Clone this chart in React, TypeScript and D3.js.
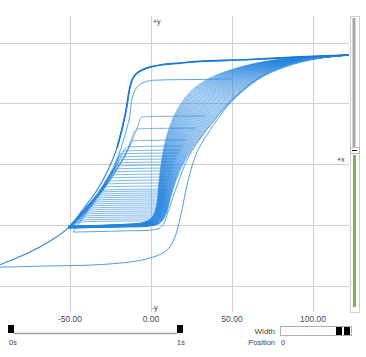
import React from 'react';
import * as d3 from 'd3';

const W = 366;
const H = 357;

// axis ticks
const xTicks = [-50, 0, 50, 100];
const xTickLabels = ['-50.00', '0.00', '50.00', '100.00'];
const yGrid = [-100, -50, 0, 50, 100];

// major loop, descending branch (field H, magnetisation M)
const majorDescH = [122.2, 92.0, 61.1, 30.2, 17.9, 5.6, -0.6, -5.6, -9.3, -11.7, -13.6, -14.8, -17.3, -21.0, -26.5, -33.3, -41.4, -51.2, -62.3, -74.7, -96];
const majorDescM = [90.1, 88.5, 86.4, 84.8, 83.5, 81.9, 80.2, 77.8, 74.5, 69.5, 59.7, 49.0, 32.5, 13.6, -4.5, -21.0, -35.8, -52.3, -63.0, -72.0, -84.0];

// major loop, ascending branch
const majorAscH = [-96, -62.3, -35.8, -13.0, -0.6, 7.4, 11.7, 14.8, 16.7, 19.1, 22.2, 25.9, 29.0, 33.3, 40.7, 50.0, 65.4, 77.8, 98.1, 122.2];
const majorAscM = [-84.6, -83.5, -82.7, -80.2, -77.0, -72.8, -67.9, -59.7, -51.4, -37.4, -16.9, 1.2, 11.9, 21.8, 36.6, 52.3, 69.5, 77.8, 86.0, 90.1];

// second loop
const secondAscH = [-48.1, -19.1, 3.7, 7.4, 10.5, 13.0, 16.7, 22.2, 28.4, 37.7, 47.5, 61.1, 76.5, 98.1, 122.2];
const secondAscM = [-55.6, -54.7, -53.1, -49.8, -39.1, -29.2, -15.2, 3.7, 17.7, 34.2, 49.8, 66.3, 78.6, 86.8, 90.1];
const secondDescH = [50.0, 30.2, 5.6, -1.9, -8.0, -11.1, -13.6, -17.9, -23.5, -31.5, -38.9, -48.1];
const secondDescM = [70.4, 70.0, 69.5, 68.7, 64.6, 57.2, 36.6, 16.0, -2.9, -21.0, -37.4, -55.6];

// ascending fan of the minor loops: inner and outer edge
const fanInnerH = [-51.2, -19.1, -3.7, 1.2, 3.7, 4.9, 6.8, 9.9, 15.4, 24.1, 36.4, 54.9, 76.5, 100, 122.2];
const fanInnerM = [-50.6, -49.4, -47.3, -42.4, -31.7, -15.2, 5.3, 24.3, 43.2, 59.7, 71.2, 80.2, 86.0, 88.5, 90.1];
const fanOuterH = [-51.2, -19.1, -0.6, 5.6, 9.3, 11.7, 16.0, 22.2, 30.2, 41.4, 54.9, 70.4, 87.0, 104.3, 122.2];
const fanOuterM = [-52.3, -51.4, -50.6, -48.1, -40.7, -29.2, -11.1, 6.2, 21.8, 40.7, 58.8, 73.7, 82.7, 87.6, 90.1];
const fanWeights = [
  0, 0.025, 0.05, 0.075, 0.1, 0.125, 0.15, 0.175, 0.2, 0.225, 0.25, 0.275, 0.3, 0.325, 0.35, 0.375, 0.4, 0.425, 0.45, 0.475,
  0.5, 0.525, 0.55, 0.575, 0.6, 0.625, 0.65, 0.675, 0.7, 0.725, 0.75, 0.775, 0.8, 0.825, 0.85, 0.875, 0.9, 0.925, 0.95, 0.975, 1,
];

// descending branches of the minor loops (top level, reversal field, knee field)
const minorTopM = [
  39.9, 30.0, 20.2, 15.2, 11.9, 9.5, 7.0, 4.5, 2.1, -0.4, -2.9, -5.3, -7.8, -10.3, -12.8, -15.2, -17.7,
  -20.2, -21.8, -23.5, -25.1, -26.7, -28.4, -30.0, -31.7, -33.3, -35.0, -36.6, -38.3, -39.9, -41.6, -43.2, -44.9, -46.5,
];
const minorRevH = [
  33.3, 27.2, 22.2, 19.8, 18.5, 17.3, 16.0, 15.4, 14.8, 14.2, 13.6, 13.0, 12.3, 11.7, 11.1, 10.5, 9.9,
  9.3, 9.3, 8.6, 8.6, 8.0, 8.0, 7.4, 7.4, 7.4, 6.8, 6.8, 6.2, 6.2, 5.6, 5.6, 4.9, 4.3,
];
const minorKneeH = [
  -6.2, -9.3, -12.3, -15.1, -17.8, -18.5, -19.3, -20.1, -20.8, -21.6, -22.3, -23.1, -24.2, -25.2, -26.2, -27.2, -28.3,
  -29.3, -30.1, -31.0, -31.9, -32.8, -33.6, -34.5, -35.4, -36.3, -37.2, -38.1, -39.1, -40.1, -41.1, -42.1, -43.1, -44.1,
];
const convergeH = -51.2;
const convergeM = -52.3;

type P = [number, number];
const zip = (a: number[], b: number[]): P[] => a.map((v, i) => [v, b[i]]);

export default function App() {
  const x = d3.scaleLinear().domain([-50, 100]).range([70, 313]);
  const y = d3.scaleLinear().domain([-100, 100]).range([286, 43]);
  const line = d3
    .line<P>()
    .x((d) => x(d[0]))
    .y((d) => y(d[1]))
    .curve(d3.curveCatmullRom.alpha(0.5));

  const fanPaths = fanWeights.map((w) =>
    fanInnerH.map((h, i): P => [h + (fanOuterH[i] - h) * w, fanInnerM[i] + (fanOuterM[i] - fanInnerM[i]) * w])
  );

  // steep part of the major descending branch, used as the guide for the drops
  const steep = zip(majorDescH, majorDescM).filter((d) => d[1] <= 70 && d[1] >= convergeM);
  const steepAsc = steep.slice().reverse();
  const majorHatM = d3
    .scaleLinear()
    .domain(steepAsc.map((d) => d[1]))
    .range(steepAsc.map((d) => d[0]));

  const descPaths = minorTopM.map((L, k) => {
    const kh = minorKneeH[k];
    const top = L - 1.2;
    const offset = kh - majorHatM(top);
    const pts: P[] = [
      [minorRevH[k], L],
      [kh + 4, L - 0.6],
      [kh, top],
    ];
    steep
      .filter((d) => d[1] < top - 4 && d[1] > convergeM + 0.5)
      .forEach((d) => {
        const f = (d[1] - convergeM) / (top - convergeM);
        pts.push([d[0] + offset * f, d[1]]);
      });
    pts.push([convergeH, convergeM]);
    return pts;
  });

  const majorDesc = zip(majorDescH, majorDescM);
  const gridColor = '#cfcfcf';
  const px = (v: number) => Math.round(x(v)) + 0.5;
  const py = (v: number) => Math.floor(y(v)) + 0.5;
  const font = 'Liberation Sans, Arial, sans-serif';
  const blue = '#2585de';

  return (
    <svg
      width={W}
      height={H}
      style={{ position: 'absolute', left: 0, top: 0, background: '#fff' }}
    >
      <defs>
        <clipPath id="plotClip">
          <rect x={0} y={16} width={349} height={296} />
        </clipPath>
      </defs>

      {/* grid */}
      {xTicks.map((t) => (
        <line key={'vx' + t} x1={px(t)} x2={px(t)} y1={16} y2={312} stroke={gridColor} strokeWidth={1} />
      ))}
      {yGrid.map((t) => (
        <line key={'hy' + t} x1={0} x2={349} y1={py(t)} y2={py(t)} stroke={gridColor} strokeWidth={1} />
      ))}

      {/* curves */}
      <g clipPath="url(#plotClip)" fill="none" strokeLinejoin="round">
        {fanPaths.map((p, i) => (
          <path key={'f' + i} d={line(p) || ''} stroke={blue} strokeOpacity={0.6} strokeWidth={0.9} />
        ))}
        {descPaths.map((p, i) => (
          <path key={'d' + i} d={line(p) || ''} stroke={blue} strokeOpacity={0.68} strokeWidth={0.9} />
        ))}
        <path d={line(zip(secondAscH, secondAscM)) || ''} stroke="#3a90e2" strokeOpacity={0.85} strokeWidth={1} />
        <path d={line(zip(secondDescH, secondDescM)) || ''} stroke="#3a90e2" strokeOpacity={0.85} strokeWidth={1} />
        <path d={line(zip(majorAscH, majorAscM)) || ''} stroke="#3a90e2" strokeOpacity={0.9} strokeWidth={1} />
        <path d={line(majorDesc) || ''} stroke="#2684dc" strokeWidth={1.1} />
        <path d={line(majorDesc.slice(0, 14)) || ''} stroke="#1a78d4" strokeWidth={1.7} />
      </g>

      {/* axis captions */}
      <text x={153} y={24} fontSize={7} fontFamily={font} fill="#333">+y</text>
      <text x={152} y={310} fontSize={7} fontFamily={font} fill="#333">-y</text>
      <text x={337} y={162} fontSize={7} fontFamily={font} fill="#333">+x</text>

      {/* tick labels */}
      {xTicks.map((t, i) => (
        <text key={'tl' + t} x={x(t)} y={322} fontSize={8.5} fontFamily={font} fill="#4a4a55" textAnchor="middle">
          {xTickLabels[i]}
        </text>
      ))}

      {/* vertical slider */}
      <rect x={350.5} y={16.5} width={9} height={296} fill="#fff" stroke="#cfcfcf" />
      <rect x={352.5} y={18} width={3} height={131} fill="#a8a8a8" />
      <rect x={353} y={155} width={3} height={152} fill="#7db356" />
      <rect x={350.5} y={147.5} width={9} height={6} fill="#fff" stroke="#b5b5b5" />
      <line x1={352} x2={357} y1={150.5} y2={150.5} stroke="#111" strokeWidth={1} />

      {/* time slider */}
      <line x1={14} x2={177} y1={333.5} y2={333.5} stroke="#a0a0a0" strokeWidth={1.5} />
      <rect x={8} y={325} width={6} height={8} fill="#000" />
      <rect x={177} y={325} width={6} height={8} fill="#000" />
      <text x={9} y={345} fontSize={7.5} fontFamily={font} fill="#444">0s</text>
      <text x={177} y={345} fontSize={7.5} fontFamily={font} fill="#444">1s</text>

      {/* width / position control */}
      <text x={275} y={334} fontSize={8} fontFamily={font} fill="#444" textAnchor="end">Width</text>
      <rect x={280.5} y={326.5} width={71} height={9} fill="#fff" stroke="#b0b0b0" />
      <rect x={336} y={327} width={6} height={8} fill="#000" />
      <rect x={344} y={327} width={6} height={8} fill="#000" />
      <text x={275} y={345} fontSize={7.5} fontFamily={font} fill="#444" textAnchor="end">Position</text>
      <text x={281} y={345} fontSize={7.5} fontFamily={font} fill="#444">0</text>
    </svg>
  );
}
